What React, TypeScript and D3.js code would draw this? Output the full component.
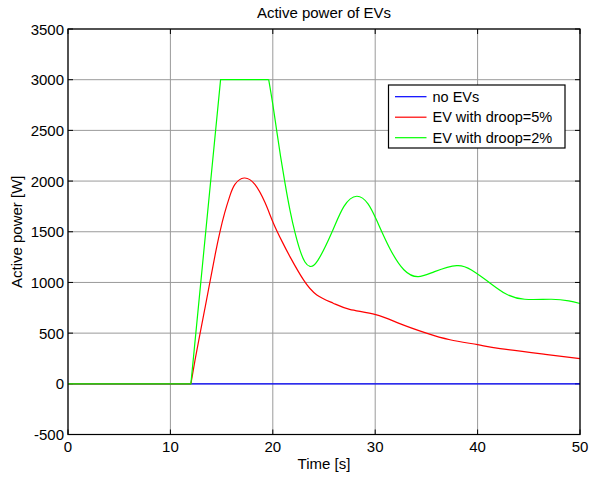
import React from "react";
import * as d3 from "d3";

const xTicks = [0, 10, 20, 30, 40, 50];
const yTicks = [-500, 0, 500, 1000, 1500, 2000, 2500, 3000, 3500];

const blueT = [0, 50];
const blueP = [0, 0];

const redT = [0, 12, 12.4, 12.9, 13.4, 13.9, 14.4, 14.85, 15.3, 15.8, 16.3, 17.2, 18.25, 19.25, 20.05, 20.9, 21.7, 23.0, 24.3, 25.9, 27.5, 30.05, 32.4, 35.0, 37.3, 40.0, 42.2, 46.6, 50];
const redP = [0, 0, 231, 497, 760, 1025, 1289, 1504, 1686, 1851, 1967, 2030, 1967, 1785, 1587, 1405, 1250, 1025, 877, 795, 735, 683, 594, 500, 435, 386, 347, 291, 249];

const greenT = [0, 12, 14.9, 19.6, 19.99, 20.38, 20.77, 21.2, 21.68, 22.17, 22.66, 23.14, 23.63, 24.4, 25.75, 26.95, 28.2, 29.3, 30.2, 31.4, 32.8, 34.2, 35.8, 37.96, 39.4, 41.05, 42.7, 44.6, 47.2, 48.9, 50];
const greenP = [0, 0, 3000, 3000, 2763, 2497, 2237, 1974, 1711, 1491, 1316, 1201, 1158, 1218, 1490, 1750, 1850, 1775, 1600, 1340, 1125, 1057, 1107, 1166, 1122, 1006, 890, 834, 834, 818, 792];

const legendLabels = ["no EVs", "EV with droop=5%", "EV with droop=2%"];
const colors = ["#0000ff", "#ff0000", "#00ff00"];

const W = 589, H = 478;
const L = 68, R = 580, T = 29, B = 434.5;
const FONT = "Liberation Sans, Arial, sans-serif";

export default function App() {
  const x = d3.scaleLinear().domain([0, 50]).range([L, R]);
  const y = d3.scaleLinear().domain([-500, 3500]).range([B, T]);
  const pts = (t: number[], p: number[]) => t.map((v, i) => [v, p[i]] as [number, number]);
  const lin = d3.line<[number, number]>().x(d => x(d[0])).y(d => y(d[1]));
  const smooth = d3.line<[number, number]>().x(d => x(d[0])).y(d => y(d[1])).curve(d3.curveNatural);

  const blue = pts(blueT, blueP);
  const red = pts(redT, redP);
  const green = pts(greenT, greenP);

  const paths: { d: string; c: string }[] = [
    { d: lin(blue) || "", c: colors[0] },
    { d: lin(red.slice(0, 2)) || "", c: colors[1] },
    { d: smooth(red.slice(1)) || "", c: colors[1] },
    { d: lin(green.slice(0, 4)) || "", c: colors[2] },
    { d: smooth(green.slice(3)) || "", c: colors[2] },
  ];

  const lgX = 388.5, lgY = 85, lgW = 176.5, lgH = 63;

  return (
    <svg width={W} height={H} style={{ position: "absolute", left: 0, top: 0, background: "#fff" }} fontFamily={FONT}>
      <rect x={0} y={0} width={W} height={H} fill="#fff" />
      {xTicks.map(t => (
        <line key={"gx" + t} x1={x(t)} x2={x(t)} y1={T} y2={B} stroke="#9a9a9a" strokeWidth={1} />
      ))}
      {yTicks.map(t => (
        <line key={"gy" + t} x1={L} x2={R} y1={y(t)} y2={y(t)} stroke="#9a9a9a" strokeWidth={1} />
      ))}
      {xTicks.map(t => (
        <g key={"tx" + t}>
          <line x1={x(t)} x2={x(t)} y1={B} y2={B - 5} stroke="#000" />
          <line x1={x(t)} x2={x(t)} y1={T} y2={T + 5} stroke="#000" />
          <text x={x(t)} y={B + 17} fontSize={15} textAnchor="middle">{t}</text>
        </g>
      ))}
      {yTicks.map(t => (
        <g key={"ty" + t}>
          <line x1={L} x2={L + 5} y1={y(t)} y2={y(t)} stroke="#000" />
          <line x1={R} x2={R - 5} y1={y(t)} y2={y(t)} stroke="#000" />
          <text x={L - 4} y={y(t) + 5.5} fontSize={15} textAnchor="end">{t}</text>
        </g>
      ))}
      {paths.map((p, i) => (
        <path key={i} d={p.d} fill="none" stroke={p.c} strokeWidth={1.2} />
      ))}
      <rect x={L} y={T} width={R - L} height={B - T} fill="none" stroke="#000" strokeWidth={1.2} />
      <rect x={lgX} y={lgY} width={lgW} height={lgH} fill="#fff" stroke="#000" strokeWidth={1.2} />
      {legendLabels.map((lab, i) => {
        const yy = lgY + 11.7 + i * 20.5;
        return (
          <g key={lab}>
            <line x1={395} x2={426.5} y1={yy} y2={yy} stroke={colors[i]} strokeWidth={1.2} />
            <text x={432.5} y={yy + 5} fontSize={14.5}>{lab}</text>
          </g>
        );
      })}
      <text x={(L + R) / 2} y={18} fontSize={15} textAnchor="middle">Active power of EVs</text>
      <text x={(L + R) / 2} y={469} fontSize={15} textAnchor="middle">Time [s]</text>
      <text transform={`translate(22,${(T + B) / 2}) rotate(-90)`} fontSize={15} textAnchor="middle">Active power [W]</text>
    </svg>
  );
}
